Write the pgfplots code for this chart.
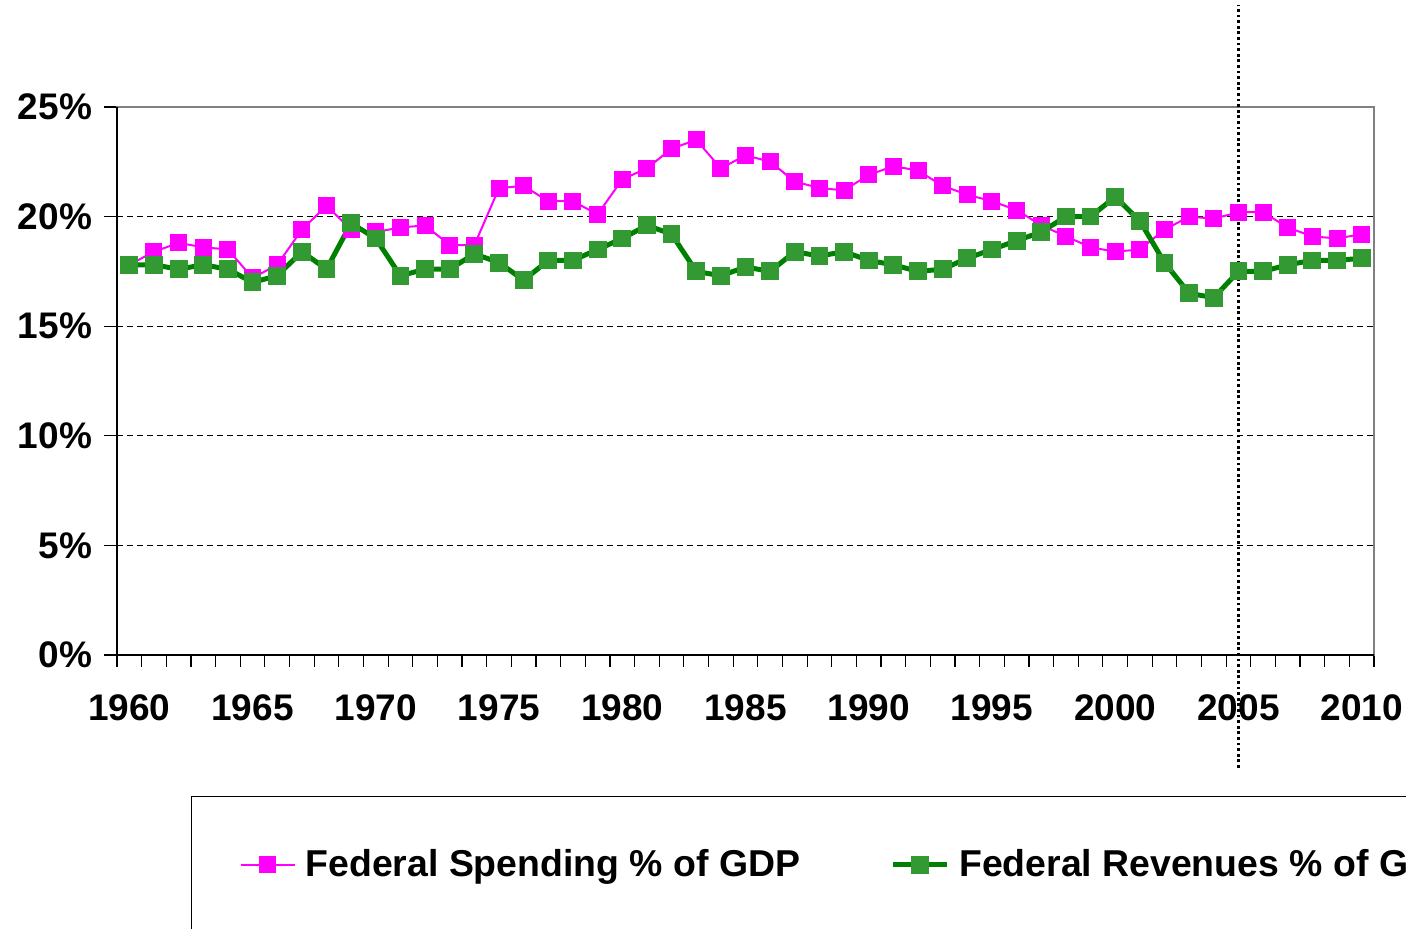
\documentclass[border=0pt]{standalone}
\usepackage{fontspec}
\setmainfont{Liberation Sans}
\usepackage{pgfplots}
\pgfplotsset{compat=1.18}
\definecolor{spend}{HTML}{FF00FF}
\definecolor{revline}{HTML}{008000}
\definecolor{revmark}{HTML}{339933}
\begin{document}
\begin{tikzpicture}
\path[use as bounding box] (-58.5pt,-137pt) rectangle (644.5pt,327.5pt);
\clip (-58.5pt,-137pt) rectangle (644.5pt,327.5pt);
\begin{axis}[
  at={(0pt,0pt)}, anchor=south west,
  scale only axis, width=628.5pt, height=274pt,
  xmin=1959.5, xmax=2010.5, ymin=0, ymax=25,
  xtick={1960,1965,...,2010},
  xticklabels={1960,1965,1970,1975,1980,1985,1990,1995,2000,2005,2010},
  minor xtick={1959.5,1960.5,...,2010.5},
  ytick={0,5,...,25},
  yticklabels={0\%,5\%,10\%,15\%,20\%,25\%},
  tick align=outside,
  xtick pos=bottom, ytick pos=left,
  major tick length=6.5pt, minor tick length=6pt,
  every major x tick/.append style={draw=none},
  tick style={black, line width=0.6pt},
  ymajorgrids=true,
  grid style={black, line width=0.5pt, dash pattern=on 3pt off 2pt},
  axis line style={draw=gray, line width=1pt},
  every tick label/.append style={font=\bfseries\fontsize{18.5}{22}\selectfont},
  xticklabel style={yshift=-10pt},
  yticklabel style={xshift=-2.5pt},
  clip=false,
  legend columns=2,
  legend style={at={(0.0589,-0.2573)}, anchor=north west, draw=black, line width=0.6pt,
    inner xsep=24pt, inner ysep=24.5pt,
    font=\bfseries\fontsize{18.7}{22}\selectfont,
    /tikz/every odd column/.append style={column sep=3pt},
    /tikz/every even column/.append style={column sep=43pt}},
  legend cell align=left,
  legend image code/.code={\draw[mark repeat=2,mark phase=2] plot coordinates {(0pt,0pt)(13.5pt,0pt)(27pt,0pt)};},
]
\addplot[spend, line width=1pt, mark=square*, mark size=4pt, mark options={fill=spend, draw=spend, line width=0pt}] coordinates {
(1960,17.8)(1961,18.4)(1962,18.8)(1963,18.6)(1964,18.5)(1965,17.2)(1966,17.8)(1967,19.4)(1968,20.5)(1969,19.4)
(1970,19.3)(1971,19.5)(1972,19.6)(1973,18.7)(1974,18.7)(1975,21.3)(1976,21.4)(1977,20.7)(1978,20.7)(1979,20.1)
(1980,21.7)(1981,22.2)(1982,23.1)(1983,23.5)(1984,22.2)(1985,22.8)(1986,22.5)(1987,21.6)(1988,21.3)(1989,21.2)
(1990,21.9)(1991,22.3)(1992,22.1)(1993,21.4)(1994,21.0)(1995,20.7)(1996,20.3)(1997,19.6)(1998,19.1)(1999,18.6)
(2000,18.4)(2001,18.5)(2002,19.4)(2003,20.0)(2004,19.9)(2005,20.2)(2006,20.2)(2007,19.5)(2008,19.1)(2009,19.0)
(2010,19.2)};
\addlegendentry{Federal Spending \% of GDP}
\addplot[revline, line width=2.5pt, mark=square*, mark size=4.2pt, mark options={fill=revmark, draw=revmark, line width=0pt}] coordinates {
(1960,17.8)(1961,17.8)(1962,17.6)(1963,17.8)(1964,17.6)(1965,17.0)(1966,17.3)(1967,18.4)(1968,17.6)(1969,19.7)
(1970,19.0)(1971,17.3)(1972,17.6)(1973,17.6)(1974,18.3)(1975,17.9)(1976,17.1)(1977,18.0)(1978,18.0)(1979,18.5)
(1980,19.0)(1981,19.6)(1982,19.2)(1983,17.5)(1984,17.3)(1985,17.7)(1986,17.5)(1987,18.4)(1988,18.2)(1989,18.4)
(1990,18.0)(1991,17.8)(1992,17.5)(1993,17.6)(1994,18.1)(1995,18.5)(1996,18.9)(1997,19.3)(1998,20.0)(1999,20.0)
(2000,20.9)(2001,19.8)(2002,17.9)(2003,16.5)(2004,16.3)(2005,17.5)(2006,17.5)(2007,17.8)(2008,18.0)(2009,18.0)
(2010,18.1)};
\addlegendentry{Federal Revenues \% of GDP}
\draw[black, line width=1pt] (rel axis cs:0,1) -- (rel axis cs:0,0) -- (rel axis cs:1,0);
\draw[black, line width=1.4pt, dash pattern=on 1.4pt off 1.4pt] (axis cs:2005,-5.15) -- (axis cs:2005,29.65);
\end{axis}
\end{tikzpicture}
\end{document}
